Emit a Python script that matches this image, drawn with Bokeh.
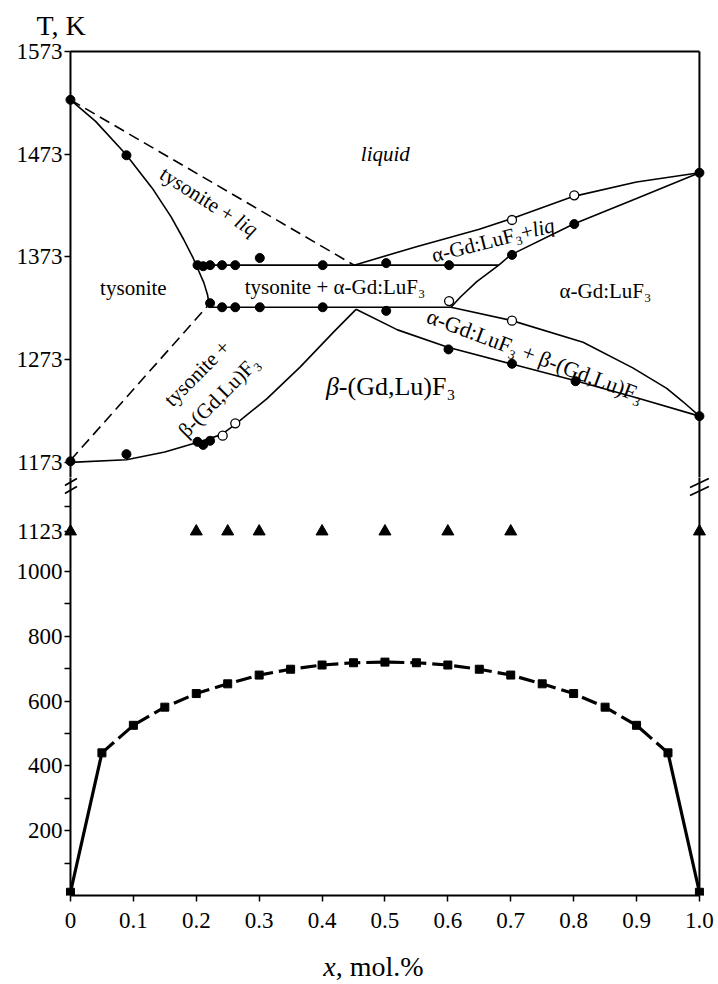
from bokeh.plotting import figure
from bokeh.layouts import column
from bokeh.models import Range1d, FixedTicker, Label, Title
from bokeh.embed import file_html
from bokeh.resources import INLINE

# ---------------- data ----------------
# Upper panel (T, K) -- phase boundaries
tys_curve_x = [0, 0.04, 0.088, 0.13, 0.16, 0.18, 0.195, 0.202, 0.212, 0.218, 0.221]
tys_curve_T = [1526, 1505, 1473, 1440, 1412, 1390, 1372, 1362, 1348, 1336, 1324]

liq_dash_x = [0, 0.451]
liq_dash_T = [1526, 1365]

low_dash_x = [0, 0.219]
low_dash_T = [1175, 1326]

beta_left_x = [0, 0.089, 0.15, 0.2, 0.24, 0.262, 0.3125, 0.3654, 0.4186, 0.454]
beta_left_T = [1173, 1175.5, 1183, 1192, 1200, 1210, 1235, 1266, 1300, 1322]

alpha_liq_x = [0.451, 0.55, 0.65, 0.7, 0.8, 0.9, 1.0]
alpha_liq_T = [1365, 1383, 1400, 1410, 1432, 1446, 1455]

alpha_sol_x = [1.0, 0.9, 0.8, 0.7, 0.681, 0.646, 0.62, 0.605]
alpha_sol_T = [1455, 1430, 1405, 1375, 1365, 1349, 1334, 1324]

beta_up_x = [0.605, 0.702, 0.815, 0.894, 0.948, 0.974, 1.0]
beta_up_T = [1324, 1311, 1290, 1265, 1245, 1232, 1218]

beta_low_x = [0.454, 0.52, 0.6, 0.7, 0.8, 0.9, 1.0]
beta_low_T = [1322, 1302, 1285, 1269, 1253, 1236, 1218]

upper_h_x = [0.201, 0.681]
upper_h_T = [1365, 1365]
lower_h_x = [0.221, 0.605]
lower_h_T = [1324, 1324]

# experimental points
filled_x = [0, 0.089, 0.202, 0.211, 0.222, 0.241, 0.262, 0.301, 0.401, 0.502, 0.602,
            0.702, 0.801, 1.0,
            0.222, 0.241, 0.262, 0.301, 0.401, 0.502,
            0.601, 0.702, 0.803, 1.0,
            0, 0.089, 0.202, 0.211, 0.222]
filled_T = [1526, 1472, 1365, 1364, 1365, 1365, 1365, 1372, 1365, 1367, 1365,
            1375, 1405, 1455,
            1328, 1324, 1324, 1324, 1324, 1320.5,
            1283, 1269, 1252, 1218,
            1174, 1181, 1193, 1190, 1194]
open_x = [0.242, 0.262, 0.602, 0.702, 0.702, 0.801]
open_T = [1199, 1211, 1330, 1311, 1409, 1433]

# Lower panel
tri_x = [0, 0.2, 0.25, 0.3, 0.4, 0.5, 0.6, 0.7, 1.0]
tri_T = [1123, 1123, 1123, 1123, 1123, 1123, 1123, 1123, 1123]

sq_x = [0, 0.05, 0.1, 0.15, 0.2, 0.25, 0.3, 0.35, 0.4, 0.45, 0.5,
        0.55, 0.6, 0.65, 0.7, 0.75, 0.8, 0.85, 0.9, 0.95, 1.0]
sq_T = [10, 440, 525, 581, 623, 653, 680, 698, 711, 718, 720,
        718, 711, 698, 680, 653, 623, 581, 525, 440, 10]

x_ticks = [0, 0.1, 0.2, 0.3, 0.4, 0.5, 0.6, 0.7, 0.8, 0.9, 1.0]
x_tick_labels = ["0", "0.1", "0.2", "0.3", "0.4", "0.5", "0.6", "0.7", "0.8", "0.9", "1.0"]
top_y_ticks = [1173, 1273, 1373, 1473, 1573]
low_y_ticks = [200, 400, 600, 800, 1000, 1123]
low_y_minor = [100, 300, 500, 700, 900, 1200]

# ---------------- styling ----------------
FONT = "Liberation Serif"
BLK = "black"
LW = 1.6
BL, BR, FW = 64, 7, 645
X0 = -0.0095
X1 = 1.016


def style_yaxis(ax):
    ax.axis_line_color = None
    ax.major_tick_line_width = 1.5
    ax.major_tick_line_color = BLK
    ax.minor_tick_line_width = 1.5
    ax.minor_tick_line_color = BLK
    ax.major_tick_in = 6
    ax.major_tick_out = 0
    ax.minor_tick_in = 6
    ax.minor_tick_out = 0
    ax.major_label_standoff = 2
    ax.major_label_text_font = FONT
    ax.major_label_text_font_size = "23px"
    ax.major_label_text_color = BLK


def lab(p, x, y, text, size=21, angle=0.0, style="normal", align="center", baseline="middle"):
    p.add_layout(Label(x=x, y=y, text=text, text_font=FONT, text_font_size=f"{size}px",
                       text_font_style=style, angle=angle, text_align=align,
                       text_baseline=baseline, text_color=BLK))


def clean(f):
    f.grid.visible = False
    f.outline_line_color = None
    f.background_fill_color = "white"
    f.border_fill_color = "white"


x_range = Range1d(X0, X1)

# ---------------- upper panel ----------------
p1 = figure(frame_width=FW, frame_height=428, x_range=x_range, y_range=Range1d(1158.25, 1575),
            x_axis_location=None, toolbar_location=None, output_backend="svg",
            min_border_left=BL, min_border_right=BR, min_border_top=48, min_border_bottom=0)
clean(p1)
p1.title = Title(text="T, K", text_font=FONT, text_font_size="28px", text_font_style="normal",
                 text_color=BLK, align="left", offset=-28, standoff=16, vertical_align="middle")
p1.yaxis.ticker = FixedTicker(ticks=top_y_ticks)
style_yaxis(p1.yaxis[0])

# frame lines (left, top, right)
p1.segment(x0=[0, 0, 1.0], y0=[1150, 1573, 1150], x1=[0, 1.0, 1.0], y1=[1573, 1573, 1573],
           line_color=BLK, line_width=2)

for xs, ys in [(tys_curve_x, tys_curve_T), (beta_left_x, beta_left_T), (alpha_liq_x, alpha_liq_T),
               (alpha_sol_x, alpha_sol_T), (beta_up_x, beta_up_T), (beta_low_x, beta_low_T),
               (upper_h_x, upper_h_T), (lower_h_x, lower_h_T)]:
    p1.line(xs, ys, line_color=BLK, line_width=LW)
for xs, ys in [(liq_dash_x, liq_dash_T), (low_dash_x, low_dash_T)]:
    p1.line(xs, ys, line_color=BLK, line_width=LW, line_dash="11 6")

p1.scatter(filled_x, filled_T, marker="circle", size=9, fill_color=BLK, line_color=BLK)
p1.scatter(open_x, open_T, marker="circle", size=9, fill_color="white", line_color=BLK, line_width=1.3)

# region labels
lab(p1, 0.5006, 1473.7, "liquid", size=21, style="italic")
lab(p1, 0.1, 1342.5, "tysonite", size=21)
lab(p1, 0.4206, 1344.2, "tysonite + α-Gd:LuF₃", size=21)
lab(p1, 0.8505, 1340.3, "α-Gd:LuF₃", size=21)
lab(p1, 0.4267, 1246.8, "β", size=26, style="italic", align="right")
lab(p1, 0.4267, 1246.8, "-(Gd,Lu)F₃", size=26, align="left")
lab(p1, 0.7392, 1277, "α-Gd:LuF₃ + β-(Gd,Lu)F₃", size=22, angle=-0.36)
lab(p1, 0.7347, 1399.2, "α-Gd:LuF₃+", size=21, angle=0.25, align="right")
lab(p1, 0.7347, 1399.2, "liq", size=21, angle=0.25, style="italic", align="left")
lab(p1, 0.2578, 1412.3, "tysonite +", size=21, angle=-0.564, align="right")
lab(p1, 0.2648, 1409.6, "liq", size=21, angle=-0.564, style="italic", align="left")
lab(p1, 0.2012, 1259.8, "tysonite +", size=21, angle=0.79)
lab(p1, 0.2355, 1237.0, "β-(Gd,Lu)F₃", size=21, angle=0.79)

# ---------------- lower panel ----------------
p2 = figure(frame_width=FW, frame_height=418, x_range=x_range, y_range=Range1d(0, 1289.5),
            toolbar_location=None, output_backend="svg",
            min_border_left=BL, min_border_right=BR, min_border_top=0, min_border_bottom=46)
clean(p2)
p2.yaxis.ticker = FixedTicker(ticks=low_y_ticks, minor_ticks=low_y_minor)
style_yaxis(p2.yaxis[0])

xa = p2.xaxis[0]
xa.ticker = FixedTicker(ticks=x_ticks)
xa.major_label_overrides = {t: s for t, s in zip(x_ticks, x_tick_labels)}
xa.bounds = (0, 1)
xa.axis_line_width = 2
xa.axis_line_color = BLK
xa.major_tick_line_width = 1.5
xa.major_tick_in = 0
xa.major_tick_out = 6
xa.minor_tick_line_color = None
xa.major_label_standoff = 11
xa.major_label_text_font = FONT
xa.major_label_text_font_size = "23px"
xa.major_label_text_color = BLK

# frame lines (left and right)
p2.segment(x0=[0, 1.0], y0=[0, 0], x1=[0, 1.0], y1=[1300, 1300], line_color=BLK, line_width=2)

# axis break marks
p2.segment(x0=[-0.009, -0.009, 0.985, 0.985], y0=[1264.8, 1240.1, 1258.6, 1234.0],
           x1=[0.0103, 0.0103, 1.015, 1.015], y1=[1286.4, 1261.7, 1286.4, 1261.7],
           line_color=BLK, line_width=1.8)

# solid end pieces, dashed middle
p2.line(sq_x[:2], sq_T[:2], line_color=BLK, line_width=3.2)
p2.line(sq_x[-2:], sq_T[-2:], line_color=BLK, line_width=3.2)
p2.line(sq_x[1:-1], sq_T[1:-1], line_color=BLK, line_width=3.2, line_dash="16 6")
p2.scatter(sq_x, sq_T, marker="square", size=8, fill_color=BLK, line_color=BLK)

p2.scatter(tri_x, tri_T, marker="triangle", size=12, fill_color=BLK, line_color=BLK)

# ---------------- footer (axis title) ----------------
foot = figure(frame_width=FW, frame_height=42, x_range=x_range, y_range=Range1d(0, 42),
              x_axis_location=None, y_axis_location=None, toolbar_location=None,
              output_backend="svg", min_border_left=BL, min_border_right=BR,
              min_border_top=0, min_border_bottom=0)
clean(foot)
lab(foot, 0.4216, 17, "x", size=28, style="italic", align="right")
lab(foot, 0.4216, 17, ", mol.%", size=28, align="left")

layout = column(p1, p2, foot)
open("out.html", "w").write(file_html(layout, INLINE))
